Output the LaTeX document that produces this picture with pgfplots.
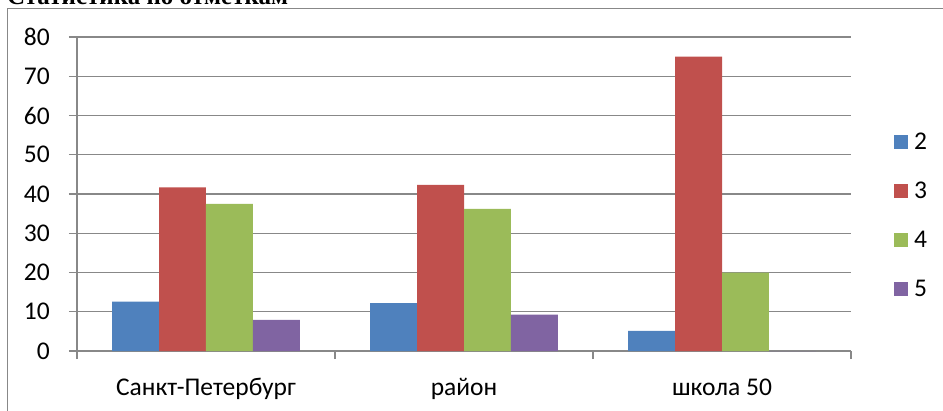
\documentclass[border=0pt]{standalone}
\usepackage{fontspec}
\setmainfont{Carlito}
\newfontfamily\titlefont{Liberation Serif}
\usepackage{pgfplots}
\pgfplotsset{compat=1.18}
\definecolor{c2}{HTML}{4F81BD}
\definecolor{c3}{HTML}{C0504D}
\definecolor{c4}{HTML}{9BBB59}
\definecolor{c5}{HTML}{8064A2}
\definecolor{gl}{HTML}{888888}
\pgfplotsset{legsq/.style={legend image code/.code={\fill[##1,draw=none] (0pt,-7pt) rectangle (14pt,7pt);}}}
\begin{document}
\begin{tikzpicture}
\useasboundingbox (0pt,0pt) rectangle (943pt,-410pt);
\begin{scope}
\clip (0pt,0pt) rectangle (943pt,-410pt);
\draw[gl, line width=1.3pt] (7.5pt,-430pt) -- (7.5pt,-8.5pt) -- (960pt,-8.5pt);
\node[anchor=base west, inner sep=0pt, font=\titlefont\bfseries\fontsize{25}{28}\selectfont] at (7pt,-4.5pt) {Статистика по отметкам};
\end{scope}
\begin{axis}[
  at={(77pt,-351pt)}, anchor=south west,
  scale only axis, width=774pt, height=314pt,
  ybar=0pt, bar width=0.182,
  xmin=-0.5, xmax=2.5, ymin=0, ymax=80,
  ytick={0,10,...,80},
  xtick={-0.5,0.5,1.5,2.5}, xticklabels={},
  extra x ticks={0,1,2},
  extra x tick labels={Санкт-Петербург,район,школа 50},
  extra x tick style={major tick length=0pt, xticklabel style={anchor=base, yshift=-44pt}},
  axis x line*=bottom, axis y line*=left,
  axis line style={draw=gl, line width=1.3pt, -},
  tick align=outside, major tick length=8pt,
  tick style={draw=gl, line width=1.3pt},
  ymajorgrids, grid style={draw=gl, line width=1.3pt},
  tick label style={font=\fontsize{25.5}{28}\selectfont},
  yticklabel style={anchor=east, inner sep=0pt, xshift=-19pt},
  /pgf/number format/assume math mode=true,
  legend style={draw=none, fill=none, at={(1.0556,0.432)}, anchor=west, inner sep=0pt,
    font=\fontsize{25.5}{28}\selectfont, row sep=27pt,
    nodes={inner sep=2pt},
    /tikz/every odd column/.append style={column sep=4pt}},
  legend cell align=left,
]
\addplot[fill=c2, draw=none, legsq] coordinates {(0,12.6) (1,12.2) (2,5.1)};
\addplot[fill=c3, draw=none, legsq] coordinates {(0,41.7) (1,42.3) (2,75.0)};
\addplot[fill=c4, draw=none, legsq] coordinates {(0,37.5) (1,36.2) (2,20.0)};
\addplot[fill=c5, draw=none, legsq] coordinates {(0,7.9) (1,9.3) (2,0)};
\legend{2,3,4,5}
\end{axis}
\end{tikzpicture}
\end{document}
